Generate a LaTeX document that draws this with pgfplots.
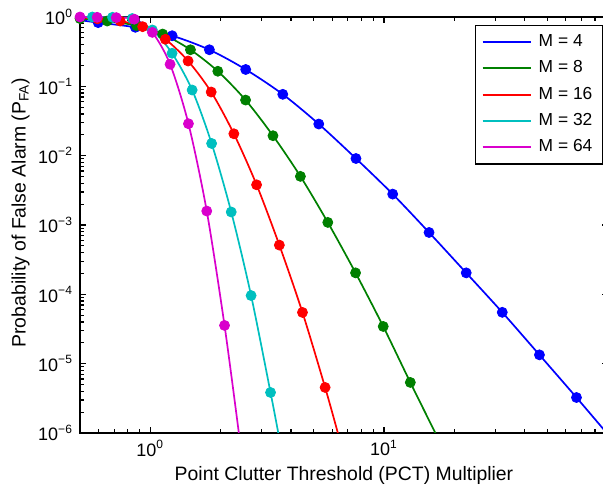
\documentclass[border=0pt]{standalone}
\usepackage{fontspec}
\setmainfont{Liberation Sans}
\usepackage{pgfplots}
\pgfplotsset{compat=1.18}

\definecolor{mblue}{rgb}{0,0,1}
\definecolor{mgreen}{rgb}{0,0.5,0}
\definecolor{mred}{rgb}{1,0,0}
\definecolor{mcyan}{rgb}{0,0.75,0.75}
\definecolor{mmag}{rgb}{0.85,0,0.8}

\pgfplotsset{
  curve/.style={#1, line width=0.85pt, smooth},
  dots/.style={#1, only marks, mark=*, mark size=2.5pt, forget plot,
    mark options={fill=#1, draw=#1}},
}

\begin{document}
\begin{tikzpicture}
\begin{axis}[
  xmode=log, ymode=log,
  scale only axis, width=264pt, height=208pt,
  xmin=0.5, xmax=91, ymin=1e-6, ymax=1,
  xtick={1,10},
  xticklabels={10\textsuperscript{0},10\textsuperscript{1}},
  minor xtick={0.5,0.6,0.7,0.8,0.9,2,3,4,5,6,7,8,9,20,30,40,50,60,70,80,90},
  ytick={1e-6,1e-5,1e-4,1e-3,1e-2,1e-1,1},
  yticklabels={10\textsuperscript{−6},10\textsuperscript{−5},10\textsuperscript{−4},
    10\textsuperscript{−3},10\textsuperscript{−2},10\textsuperscript{−1},10\textsuperscript{0}},
  minor ytick={2e-6,3e-6,4e-6,5e-6,6e-6,7e-6,8e-6,9e-6,
    2e-5,3e-5,4e-5,5e-5,6e-5,7e-5,8e-5,9e-5,
    2e-4,3e-4,4e-4,5e-4,6e-4,7e-4,8e-4,9e-4,
    2e-3,3e-3,4e-3,5e-3,6e-3,7e-3,8e-3,9e-3,
    2e-2,3e-2,4e-2,5e-2,6e-2,7e-2,8e-2,9e-2,
    2e-1,3e-1,4e-1,5e-1,6e-1,7e-1,8e-1,9e-1},
  tick align=inside,
  major tick length=3pt, minor tick length=1.8pt,
  axis line style={line width=0.8pt},
  tick style={line width=0.6pt, black},
  ticklabel style={font=\fontsize{9}{10}\selectfont},
  label style={font=\fontsize{9.7}{11}\selectfont},
  xlabel={Point Clutter Threshold (PCT) Multiplier},
  ylabel={Probability of False Alarm (P\textsubscript{FA})},
  xlabel style={at={(axis description cs:0.5,-0.113)}, anchor=base},
  ylabel style={at={(axis description cs:-0.103,0.53)}, anchor=base},
  clip marker paths=false,
  legend cell align=left,
  legend style={at={(rel axis cs:1,1)}, anchor=north east, xshift=-2.5pt, yshift=-4pt,
    draw=black, /tikz/line width=0.6pt, font=\fontsize{8.7}{10}\selectfont,
    inner xsep=3pt, inner ysep=2.5pt, row sep=1.6pt,
    /tikz/every odd column/.append style={column sep=1.5pt}},
  legend image code/.code={\draw[#1, line width=1pt] (0pt,0pt) -- (24pt,0pt);},
]
\coordinate (sw) at (rel axis cs:0,0);
\coordinate (ne) at (rel axis cs:1,1);

% M = 4
\addplot[curve=mblue] coordinates {
  (0.5,0.9) (0.598,0.83) (0.863,0.71) (1.24,0.537) (1.79,0.337) (2.56,0.175)
  (3.69,0.0767) (5.26,0.0286) (7.59,0.0091) (10.9,0.00279) (15.6,7.8e-4)
  (22.5,2.04e-4) (32.1,5.5e-5) (46.3,1.34e-5) (66.7,3.25e-6) (91,9.5e-7)};
\addplot[dots=mblue] coordinates {
  (0.598,0.83) (0.863,0.71) (1.24,0.537) (1.79,0.337) (2.56,0.175)
  (3.69,0.0767) (5.26,0.0286) (7.59,0.0091) (10.9,0.00279) (15.6,7.8e-4)
  (22.5,2.04e-4) (32.1,5.5e-5) (46.3,1.34e-5) (66.7,3.25e-6)};

% M = 8
\addplot[curve=mgreen] coordinates {
  (0.5,0.95) (0.654,0.875) (0.873,0.75) (1.129,0.568) (1.485,0.337) (1.945,0.165)
  (2.557,0.0634) (3.35,0.0194) (4.39,0.00503) (5.75,0.00109) (7.56,2.04e-4)
  (9.93,3.44e-5) (12.97,5.36e-6) (16.6,1e-6)};
\addplot[dots=mgreen] coordinates {
  (0.5,0.95) (0.654,0.875) (0.873,0.75) (1.129,0.568) (1.485,0.337) (1.945,0.165)
  (2.557,0.0634) (3.35,0.0194) (4.39,0.00503) (5.75,0.00109) (7.56,2.04e-4)
  (9.93,3.44e-5) (12.97,5.36e-6)};

% M = 16
\addplot[curve=mred] coordinates {
  (0.5,0.97) (0.594,0.94) (0.743,0.875) (0.927,0.725) (1.16,0.477) (1.451,0.232)
  (1.822,0.0828) (2.278,0.0207) (2.85,0.0038) (3.567,5.13e-4) (4.48,5.48e-5)
  (5.6,4.54e-6) (6.35,1e-6)};
\addplot[dots=mred] coordinates {
  (0.594,0.94) (0.743,0.875) (0.927,0.725) (1.16,0.477) (1.451,0.232)
  (1.822,0.0828) (2.278,0.0207) (2.85,0.0038) (3.567,5.13e-4) (4.48,5.48e-5)
  (5.6,4.54e-6)};

% M = 32
\addplot[curve=mcyan] coordinates {
  (0.5,1.0) (0.565,1.0) (0.689,0.99) (0.837,0.95) (1.02,0.65) (1.239,0.30)
  (1.51,0.0885) (1.83,0.0150) (2.22,0.00154) (2.70,9.6e-5) (3.27,3.84e-6)
  (3.53,1e-6)};
\addplot[dots=mcyan] coordinates {
  (0.565,1.0) (0.689,0.99) (0.837,0.95) (1.02,0.65) (1.239,0.30)
  (1.51,0.0885) (1.83,0.0150) (2.22,0.00154) (2.70,9.6e-5) (3.27,3.84e-6)};

% M = 64
\addplot[curve=mmag] coordinates {
  (0.5,1.0) (0.592,0.99) (0.715,0.98) (0.854,0.93) (1.02,0.60) (1.215,0.208)
  (1.456,0.0289) (1.744,0.00159) (2.078,3.56e-5) (2.393,1e-6)};
\addplot[dots=mmag] coordinates {
  (0.5,1.0) (0.592,0.99) (0.715,0.98) (0.854,0.93) (1.02,0.60) (1.215,0.208)
  (1.456,0.0289) (1.744,0.00159) (2.078,3.56e-5)};

\legend{M = 4, M = 8, M = 16, M = 32, M = 64}
\end{axis}
\pgfresetboundingbox
\path ([xshift=-40pt,yshift=-26.5pt]sw) rectangle ([xshift=-2.5pt,yshift=8.5pt]ne);
\end{tikzpicture}
\end{document}
